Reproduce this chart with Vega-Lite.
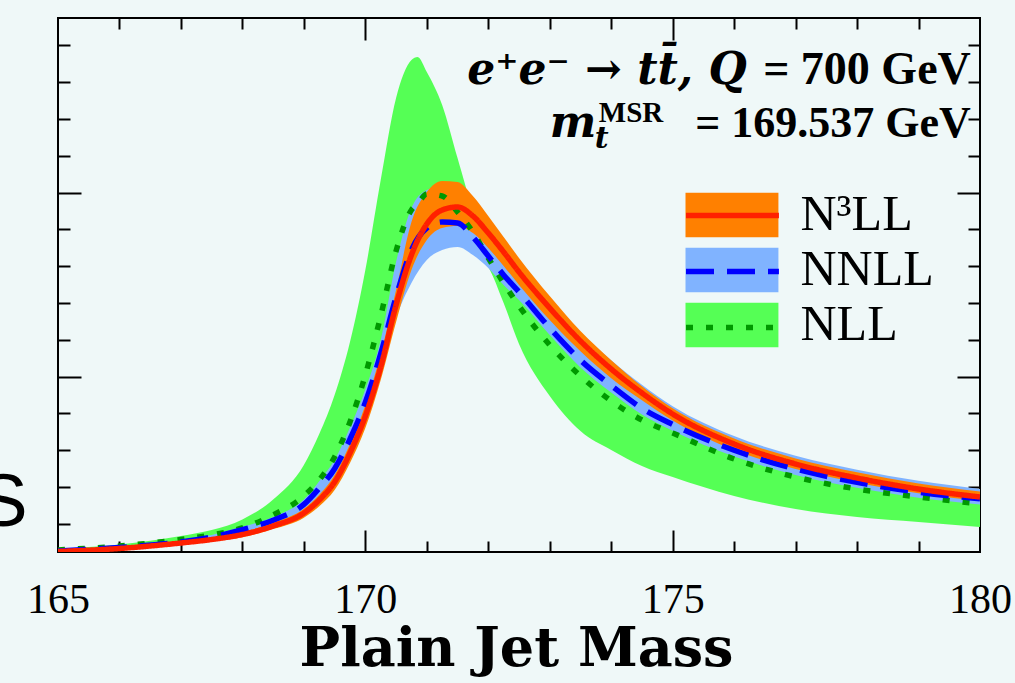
{
  "$schema": "https://vega.github.io/schema/vega-lite/v6.json",
  "width": 922,
  "height": 534,
  "autosize": {"type": "none"},
  "padding": {"left": 58, "top": 18, "right": 35, "bottom": 131},
  "background": "#eff8f8",
  "config": {
    "view": {"stroke": "#000000", "strokeWidth": 2},
    "axis": {"grid": false, "domain": false, "tickColor": "#000000", "tickWidth": 2, "zindex": 1}
  },
  "data": {"values": [
    {"s":"NLL","x":165,"lo":0.250,"c":0.291,"hi":0.318},
    {"s":"NLL","x":166,"lo":0.332,"c":0.399,"hi":0.440},
    {"s":"NLL","x":167,"lo":0.481,"c":0.576,"hi":0.671},
    {"s":"NLL","x":167.5,"lo":0.563,"c":0.698,"hi":0.834},
    {"s":"NLL","x":168,"lo":0.698,"c":0.889,"hi":1.122},
    {"s":"NLL","x":168.5,"lo":0.997,"c":1.242,"hi":1.663},
    {"s":"NLL","x":169,"lo":1.432,"c":1.758,"hi":2.601},
    {"s":"NLL","x":169.25,"lo":1.813,"c":2.193,"hi":3.443},
    {"s":"NLL","x":169.5,"lo":2.274,"c":2.818,"hi":4.503},
    {"s":"NLL","x":169.75,"lo":3.117,"c":3.769,"hi":5.943},
    {"s":"NLL","x":170,"lo":4.149,"c":5.046,"hi":7.897},
    {"s":"NLL","x":170.25,"lo":5.454,"c":6.649,"hi":10.345},
    {"s":"NLL","x":170.5,"lo":6.948,"c":8.416,"hi":12.573},
    {"s":"NLL","x":170.75,"lo":8.117,"c":9.530,"hi":13.606},
    {"s":"NLL","x":170.85,"lo":8.307,"c":9.693,"hi":13.688},
    {"s":"NLL","x":171,"lo":8.579,"c":9.965,"hi":13.280},
    {"s":"NLL","x":171.25,"lo":8.633,"c":9.910,"hi":12.383},
    {"s":"NLL","x":171.5,"lo":8.606,"c":9.476,"hi":10.943},
    {"s":"NLL","x":171.75,"lo":8.389,"c":8.932,"hi":9.530},
    {"s":"NLL","x":172,"lo":7.981,"c":8.226,"hi":8.443},
    {"s":"NLL","x":172.25,"lo":7.003,"c":7.546,"hi":8.307},
    {"s":"NLL","x":172.5,"lo":5.889,"c":6.921,"hi":7.764},
    {"s":"NLL","x":173,"lo":4.476,"c":5.861,"hi":6.812},
    {"s":"NLL","x":173.5,"lo":3.524,"c":5.019,"hi":5.861},
    {"s":"NLL","x":174,"lo":3.008,"c":4.340,"hi":5.101},
    {"s":"NLL","x":174.5,"lo":2.573,"c":3.823,"hi":4.503},
    {"s":"NLL","x":175,"lo":2.274,"c":3.470,"hi":3.878},
    {"s":"NLL","x":176,"lo":1.758,"c":2.764,"hi":3.090},
    {"s":"NLL","x":177,"lo":1.405,"c":2.274,"hi":2.546},
    {"s":"NLL","x":178,"lo":1.188,"c":1.948,"hi":2.193},
    {"s":"NLL","x":179,"lo":1.052,"c":1.731,"hi":1.921},
    {"s":"NLL","x":180,"lo":0.916,"c":1.541,"hi":1.731},
    {"s":"NNLL","x":165,"lo":0.236,"c":0.264,"hi":0.291},
    {"s":"NNLL","x":166,"lo":0.318,"c":0.359,"hi":0.386},
    {"s":"NNLL","x":167,"lo":0.454,"c":0.508,"hi":0.549},
    {"s":"NNLL","x":167.5,"lo":0.560,"c":0.640,"hi":0.700},
    {"s":"NNLL","x":168,"lo":0.750,"c":0.840,"hi":0.920},
    {"s":"NNLL","x":168.5,"lo":1.000,"c":1.100,"hi":1.190},
    {"s":"NNLL","x":169,"lo":1.380,"c":1.530,"hi":1.660},
    {"s":"NNLL","x":169.25,"lo":1.780,"c":1.970,"hi":2.160},
    {"s":"NNLL","x":169.5,"lo":2.250,"c":2.500,"hi":2.740},
    {"s":"NNLL","x":169.75,"lo":2.950,"c":3.300,"hi":3.620},
    {"s":"NNLL","x":170,"lo":3.850,"c":4.300,"hi":4.660},
    {"s":"NNLL","x":170.25,"lo":5.100,"c":5.620,"hi":6.000},
    {"s":"NNLL","x":170.5,"lo":6.595,"c":7.166,"hi":8.117},
    {"s":"NNLL","x":170.75,"lo":7.546,"c":8.440,"hi":9.584},
    {"s":"NNLL","x":171,"lo":8.171,"c":9.041,"hi":10.073},
    {"s":"NNLL","x":171.25,"lo":8.443,"c":9.204,"hi":10.182},
    {"s":"NNLL","x":171.5,"lo":8.524,"c":9.177,"hi":10.073},
    {"s":"NNLL","x":171.75,"lo":8.307,"c":8.796,"hi":9.666},
    {"s":"NNLL","x":172,"lo":7.954,"c":8.280,"hi":9.204},
    {"s":"NNLL","x":172.25,"lo":7.492,"c":7.764,"hi":8.715},
    {"s":"NNLL","x":172.5,"lo":7.084,"c":7.302,"hi":8.117},
    {"s":"NNLL","x":173,"lo":6.130,"c":6.323,"hi":7.100},
    {"s":"NNLL","x":173.5,"lo":5.250,"c":5.450,"hi":6.200},
    {"s":"NNLL","x":174,"lo":4.570,"c":4.760,"hi":5.450},
    {"s":"NNLL","x":174.5,"lo":3.970,"c":4.140,"hi":4.780},
    {"s":"NNLL","x":175,"lo":3.530,"c":3.700,"hi":4.200},
    {"s":"NNLL","x":176,"lo":2.830,"c":3.000,"hi":3.390},
    {"s":"NNLL","x":177,"lo":2.330,"c":2.490,"hi":2.850},
    {"s":"NNLL","x":178,"lo":1.980,"c":2.130,"hi":2.470},
    {"s":"NNLL","x":179,"lo":1.710,"c":1.860,"hi":2.170},
    {"s":"NNLL","x":180,"lo":1.530,"c":1.680,"hi":1.950},
    {"s":"N³LL","x":165,"lo":0.236,"c":0.250,"hi":0.291},
    {"s":"N³LL","x":166,"lo":0.304,"c":0.332,"hi":0.372},
    {"s":"N³LL","x":167,"lo":0.427,"c":0.481,"hi":0.522},
    {"s":"N³LL","x":167.5,"lo":0.520,"c":0.576,"hi":0.630},
    {"s":"N³LL","x":168,"lo":0.640,"c":0.712,"hi":0.780},
    {"s":"N³LL","x":168.5,"lo":0.860,"c":0.943,"hi":1.030},
    {"s":"N³LL","x":169,"lo":1.170,"c":1.296,"hi":1.410},
    {"s":"N³LL","x":169.25,"lo":1.480,"c":1.649,"hi":1.790},
    {"s":"N³LL","x":169.5,"lo":1.921,"c":2.139,"hi":2.329},
    {"s":"N³LL","x":169.75,"lo":2.655,"c":2.927,"hi":3.171},
    {"s":"N³LL","x":170,"lo":3.606,"c":3.932,"hi":4.231},
    {"s":"N³LL","x":170.25,"lo":4.910,"c":5.264,"hi":5.617},
    {"s":"N³LL","x":170.5,"lo":6.486,"c":6.948,"hi":7.356},
    {"s":"N³LL","x":170.75,"lo":7.899,"c":8.307,"hi":9.204},
    {"s":"N³LL","x":171,"lo":8.715,"c":9.149,"hi":10.019},
    {"s":"N³LL","x":171.25,"lo":9.041,"c":9.530,"hi":10.318},
    {"s":"N³LL","x":171.5,"lo":9.095,"c":9.611,"hi":10.291},
    {"s":"N³LL","x":171.75,"lo":8.905,"c":9.367,"hi":9.910},
    {"s":"N³LL","x":172,"lo":8.497,"c":8.905,"hi":9.367},
    {"s":"N³LL","x":172.25,"lo":8.008,"c":8.389,"hi":8.796},
    {"s":"N³LL","x":172.5,"lo":7.492,"c":7.845,"hi":8.226},
    {"s":"N³LL","x":173,"lo":6.540,"c":6.867,"hi":7.190},
    {"s":"N³LL","x":173.5,"lo":5.690,"c":5.970,"hi":6.240},
    {"s":"N³LL","x":174,"lo":4.960,"c":5.209,"hi":5.450},
    {"s":"N³LL","x":174.5,"lo":4.360,"c":4.557,"hi":4.740},
    {"s":"N³LL","x":175,"lo":3.810,"c":3.986,"hi":4.140},
    {"s":"N³LL","x":176,"lo":3.010,"c":3.171,"hi":3.320},
    {"s":"N³LL","x":177,"lo":2.490,"c":2.628,"hi":2.780},
    {"s":"N³LL","x":178,"lo":2.120,"c":2.247,"hi":2.400},
    {"s":"N³LL","x":179,"lo":1.830,"c":1.948,"hi":2.100},
    {"s":"N³LL","x":180,"lo":1.620,"c":1.731,"hi":1.880}
  ]},
  "resolve": {"axis": {"x": "independent", "y": "independent"}},
  "layer": [
    {
      "transform": [{"filter": "datum.s === 'NLL'"}],
      "mark": {"type": "area", "interpolate": "monotone", "clip": true, "opacity": 1},
      "encoding": {
        "x": {"field": "x", "type": "quantitative", "scale": {"domain": [165, 180], "nice": false, "zero": false},
          "axis": {"orient": "bottom", "values": [165, 170, 175, 180], "ticks": false, "labels": true, "format": "d", "labelFont": "Liberation Serif", "labelFontSize": 42, "labelColor": "#000000", "labelBaseline": "alphabetic", "labelPadding": 60, "labelFlush": false, "labelAngle": 0,
            "title": "Plain Jet Mass", "titleFont": "DejaVu Serif", "titleFontSize": 54, "titleFontWeight": "bold", "titleColor": "#000000", "titleBaseline": "alphabetic", "titleAlign": "center", "titleX": 458, "titleY": 113}},
        "y": {"field": "hi", "type": "quantitative", "scale": {"domain": [0.236, 14.747], "nice": false, "zero": false},
          "axis": {"orient": "left", "values": [5, 10], "labels": false, "tickSize": -23,
            "title": "S", "titleFont": "Liberation Sans", "titleFontSize": 74, "titleFontWeight": "normal", "titleColor": "#000000", "titleAngle": 0, "titleAlign": "right", "titleBaseline": "alphabetic", "titleX": -31, "titleY": 507}},
        "y2": {"field": "lo"},
        "fill": {"field": "s", "type": "nominal", "scale": {"domain": ["N³LL", "NNLL", "NLL"], "range": ["#ff8000", "#80b3ff", "#55ff55"]},
          "legend": {"orient": "none", "legendX": 602.5, "legendY": 172, "title": null, "padding": 0, "symbolType": "M0,-0.99H4.13V0.99H0Z", "symbolSize": 2025, "symbolStrokeWidth": 0, "symbolOpacity": 1, "labelFont": "Liberation Serif", "labelFontSize": 50, "labelColor": "#000000", "labelOffset": 90, "rowPadding": 5, "labelLimit": 0}}
      }
    },
    {
      "transform": [{"filter": "datum.s === 'NNLL'"}],
      "mark": {"type": "area", "interpolate": "monotone", "clip": true, "opacity": 1},
      "encoding": {
        "x": {"field": "x", "type": "quantitative", "axis": {"orient": "bottom", "values": [166, 167, 168, 169, 171, 172, 173, 174, 176, 177, 178, 179], "labels": false, "tickSize": -11, "title": null}},
        "y": {"field": "hi", "type": "quantitative", "axis": {"orient": "left", "values": [1, 2, 3, 4, 6, 7, 8, 9, 11, 12, 13, 14], "labels": false, "tickSize": -12, "title": null}},
        "y2": {"field": "lo"},
        "fill": {"field": "s", "type": "nominal",
          "legend": {"orient": "none", "legendX": 602.5, "legendY": 172, "title": null, "padding": 0, "symbolType": "M0,-0.99H4.13V0.99H0Z", "symbolSize": 2025, "symbolStrokeWidth": 0, "symbolOpacity": 1, "labelFont": "Liberation Serif", "labelFontSize": 50, "labelColor": "#000000", "labelOffset": 90, "rowPadding": 5, "labelLimit": 0}}
      }
    },
    {
      "transform": [{"filter": "datum.s === 'N³LL'"}],
      "mark": {"type": "area", "interpolate": "monotone", "clip": true, "opacity": 1},
      "encoding": {
        "x": {"field": "x", "type": "quantitative", "axis": {"orient": "bottom", "values": [170, 175], "labels": false, "tickSize": -22, "title": null}},
        "y": {"field": "hi", "type": "quantitative", "axis": {"orient": "right", "values": [5, 10], "labels": false, "tickSize": -23, "title": null}},
        "y2": {"field": "lo"},
        "fill": {"field": "s", "type": "nominal",
          "legend": {"orient": "none", "legendX": 602.5, "legendY": 172, "title": null, "padding": 0, "symbolType": "M0,-0.99H4.13V0.99H0Z", "symbolSize": 2025, "symbolStrokeWidth": 0, "symbolOpacity": 1, "labelFont": "Liberation Serif", "labelFontSize": 50, "labelColor": "#000000", "labelOffset": 90, "rowPadding": 5, "labelLimit": 0}}
      }
    },
    {
      "mark": {"type": "line", "interpolate": "monotone", "clip": true, "strokeWidth": 5.5},
      "encoding": {
        "x": {"field": "x", "type": "quantitative", "axis": {"orient": "top", "values": [170, 175], "labels": false, "tickSize": -22, "title": null}},
        "y": {"field": "c", "type": "quantitative", "axis": {"orient": "right", "values": [1, 2, 3, 4, 6, 7, 8, 9, 11, 12, 13, 14], "labels": false, "tickSize": -12, "title": null}},
        "stroke": {"field": "s", "type": "nominal", "sort": "descending", "scale": {"range": ["#ff2000", "#0000ff", "#009900"]},
          "legend": {"orient": "none", "legendX": 602.5, "legendY": 172, "title": null, "padding": 0, "symbolType": "M0,0H4.13", "symbolSize": 2025, "symbolStrokeWidth": 5.5, "symbolFillColor": "transparent", "labelFont": "Liberation Serif", "labelFontSize": 50, "labelColor": "transparent", "labelOffset": 90, "rowPadding": 5, "labelLimit": 0, "zindex": 2}},
        "strokeDash": {"field": "s", "type": "nominal", "sort": "descending", "scale": {"range": [[1, 0], [28, 13], [7, 13]]},
          "legend": {"orient": "none", "legendX": 602.5, "legendY": 172, "title": null, "padding": 0, "symbolType": "M0,0H4.13", "symbolSize": 2025, "symbolStrokeWidth": 5.5, "symbolFillColor": "transparent", "labelFont": "Liberation Serif", "labelFontSize": 50, "labelColor": "transparent", "labelOffset": 90, "rowPadding": 5, "labelLimit": 0, "zindex": 2}}
      }
    },
    {
      "data": {"values": [{}]},
      "mark": {"type": "text", "text": "= 700 GeV", "font": "Liberation Serif", "fontWeight": "bold", "fontSize": 46, "align": "right", "baseline": "alphabetic", "fill": "#000000"},
      "encoding": {
        "x": {"datum": 179.85, "type": "quantitative", "axis": {"orient": "top", "values": [166, 167, 168, 169, 171, 172, 173, 174, 176, 177, 178, 179], "labels": false, "tickSize": -11, "title": null}},
        "y": {"datum": 12.95, "type": "quantitative", "axis": null}
      }
    },
    {
      "data": {"values": [{}]},
      "mark": {"type": "text", "text": "e⁺e⁻ → tt̄, Q", "font": "DejaVu Serif", "fontWeight": "bold", "fontStyle": "italic", "fontSize": 44, "align": "right", "baseline": "alphabetic", "dx": -224, "fill": "#000000"},
      "encoding": {
        "x": {"datum": 179.85, "type": "quantitative", "axis": null},
        "y": {"datum": 12.95, "type": "quantitative", "axis": null}
      }
    },
    {
      "data": {"values": [{}]},
      "mark": {"type": "text", "text": "= 169.537 GeV", "font": "Liberation Serif", "fontWeight": "bold", "fontSize": 44, "align": "right", "baseline": "alphabetic", "fill": "#000000"},
      "encoding": {
        "x": {"datum": 179.85, "type": "quantitative", "axis": null},
        "y": {"datum": 11.5, "type": "quantitative", "axis": null}
      }
    },
    {
      "data": {"values": [{}]},
      "mark": {"type": "text", "text": "m", "font": "DejaVu Serif", "fontWeight": "bold", "fontStyle": "italic", "fontSize": 44, "align": "left", "baseline": "alphabetic", "dx": -421, "fill": "#000000"},
      "encoding": {
        "x": {"datum": 179.85, "type": "quantitative", "axis": null},
        "y": {"datum": 11.5, "type": "quantitative", "axis": null}
      }
    },
    {
      "data": {"values": [{}]},
      "mark": {"type": "text", "text": "t", "font": "DejaVu Serif", "fontWeight": "bold", "fontStyle": "italic", "fontSize": 30, "align": "left", "baseline": "alphabetic", "dx": -376, "dy": 11, "fill": "#000000"},
      "encoding": {
        "x": {"datum": 179.85, "type": "quantitative", "axis": null},
        "y": {"datum": 11.5, "type": "quantitative", "axis": null}
      }
    },
    {
      "data": {"values": [{}]},
      "mark": {"type": "text", "text": "MSR", "font": "Liberation Serif", "fontWeight": "bold", "fontSize": 29, "align": "left", "baseline": "alphabetic", "dx": -372, "dy": -15, "fill": "#000000"},
      "encoding": {
        "x": {"datum": 179.85, "type": "quantitative", "axis": null},
        "y": {"datum": 11.5, "type": "quantitative", "axis": null}
      }
    }
  ]
}
